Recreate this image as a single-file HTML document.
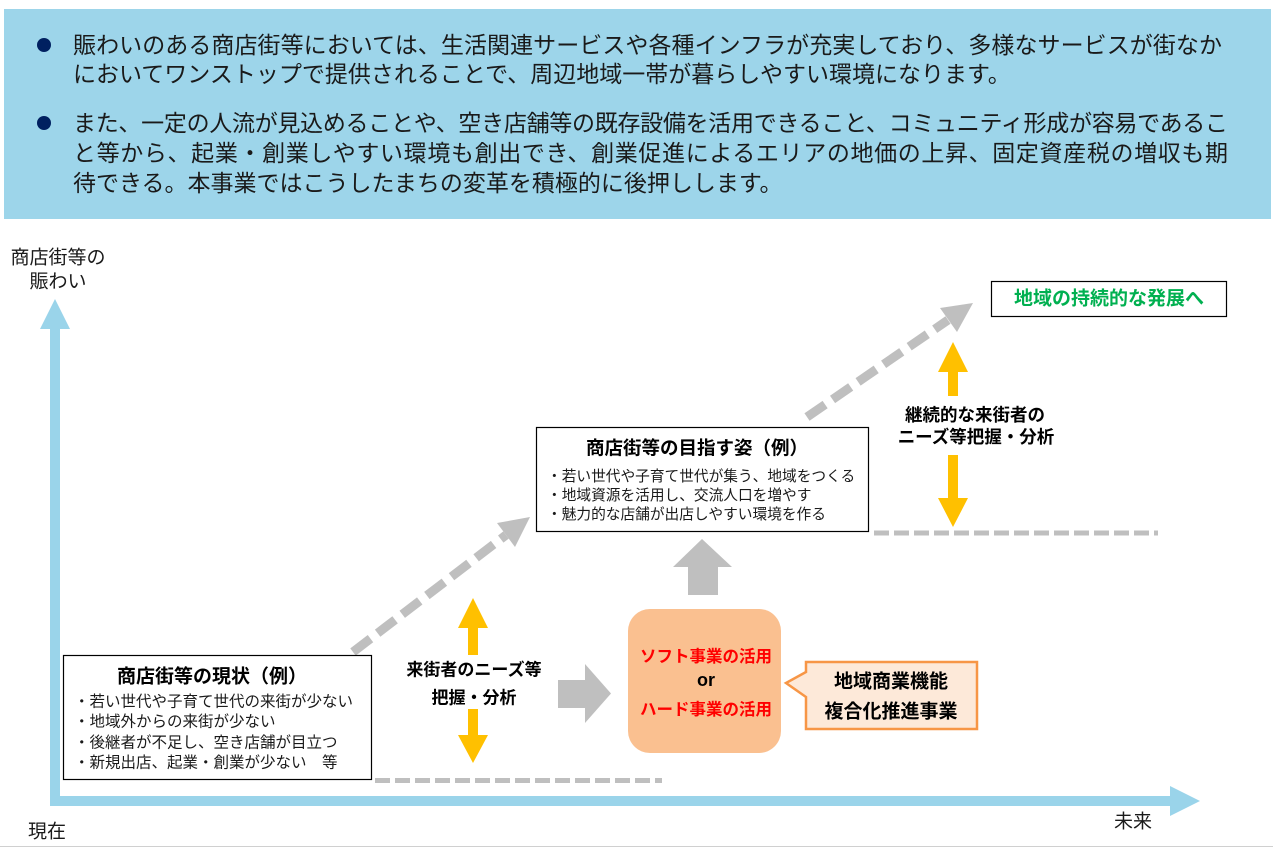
<!DOCTYPE html>
<html><head><meta charset="utf-8">
<style>
html,body{margin:0;padding:0;background:#fff;}
svg{display:block;font-family:"Liberation Sans","Noto Sans CJK JP",sans-serif;}
</style></head><body>
<svg width="1273" height="847" viewBox="0 0 1273 847" xmlns="http://www.w3.org/2000/svg">
<!-- banner -->
<rect x="4" y="9" width="1267" height="210" fill="#9dd5ea"/>
<circle cx="44" cy="45" r="7" fill="#002060"/>
<circle cx="44" cy="123" r="7" fill="#002060"/>
<g font-size="23" fill="#1a1a1a" dominant-baseline="central">
<text x="73" y="45" textLength="1149" lengthAdjust="spacing">賑わいのある商店街等においては、生活関連サービスや各種インフラが充実しており、多様なサービスが街なか</text>
<text x="73" y="74">においてワンストップで提供されることで、周辺地域一帯が暮らしやすい環境になります。</text>
<text x="73" y="123" textLength="1155" lengthAdjust="spacing">また、一定の人流が見込めることや、空き店舗等の既存設備を活用できること、コミュニティ形成が容易であるこ</text>
<text x="73" y="153" textLength="1155" lengthAdjust="spacing">と等から、起業・創業しやすい環境も創出でき、創業促進によるエリアの地価の上昇、固定資産税の増収も期</text>
<text x="73" y="183">待できる。本事業ではこうしたまちの変革を積極的に後押しします。</text>
</g>

<!-- axes -->
<rect x="50" y="328" width="10" height="478" fill="#9ad4ea"/>
<polygon points="40,329 55,299 70,329" fill="#9ad4ea"/>
<rect x="50" y="796" width="1121" height="10" fill="#9ad4ea"/>
<polygon points="1170,786 1200,801 1170,816" fill="#9ad4ea"/>
<g font-size="19" fill="#1a1a1a" dominant-baseline="central" text-anchor="middle">
<text x="58" y="258">商店街等の</text>
<text x="58" y="282">賑わい</text>
<text x="47" y="832">現在</text>
<text x="1133" y="822">未来</text>
</g>
<rect x="0" y="846" width="1273" height="1" fill="#d0d0d0"/>

<!-- dashed baselines -->
<line x1="375" y1="780.5" x2="662" y2="780.5" stroke="#bfbfbf" stroke-width="5" stroke-dasharray="15 5"/>
<line x1="874" y1="533" x2="1158" y2="533" stroke="#bfbfbf" stroke-width="5" stroke-dasharray="15 5"/>

<!-- diagonal dashed arrows -->
<line x1="353" y1="652" x2="506" y2="535" stroke="#bfbfbf" stroke-width="9" stroke-dasharray="22 9"/>
<polygon points="530,517 515,547 497,523" fill="#bfbfbf"/>
<line x1="807" y1="417" x2="948" y2="320" stroke="#bfbfbf" stroke-width="9" stroke-dasharray="22 9"/>
<polygon points="973,303 957,332 940,308" fill="#bfbfbf"/>

<!-- box 1 -->
<rect x="63.5" y="655.5" width="308" height="124" fill="#fff" stroke="#000" stroke-width="1.2"/>
<text x="212" y="677" font-size="19" font-weight="700" text-anchor="middle" dominant-baseline="central" fill="#000">商店街等の現状（例）</text>
<g font-size="15.5" fill="#1a1a1a" dominant-baseline="central">
<text x="74" y="702">・若い世代や子育て世代の来街が少ない</text>
<text x="74" y="722">・地域外からの来街が少ない</text>
<text x="74" y="743">・後継者が不足し、空き店舗が目立つ</text>
<text x="74" y="763">・新規出店、起業・創業が少ない　等</text>
</g>

<!-- box 2 -->
<rect x="536.5" y="427.5" width="332" height="104" fill="#fff" stroke="#000" stroke-width="1.2"/>
<text x="697" y="448" font-size="18.5" font-weight="700" text-anchor="middle" dominant-baseline="central" fill="#000">商店街等の目指す姿（例）</text>
<g font-size="14.7" fill="#1a1a1a" dominant-baseline="central">
<text x="547" y="477">・若い世代や子育て世代が集う、地域をつくる</text>
<text x="547" y="496">・地域資源を活用し、交流人口を増やす</text>
<text x="547" y="515">・魅力的な店舗が出店しやすい環境を作る</text>
</g>

<!-- yellow double arrow 1 -->
<polygon points="473,598 488,628 478,628 478,655 468,655 468,628 458,628" fill="#ffc000"/>
<polygon points="473,763 488,735 478,735 478,709 468,709 468,735 458,735" fill="#ffc000"/>
<g font-size="17" font-weight="700" fill="#000" text-anchor="middle" dominant-baseline="central">
<text x="474" y="670">来街者のニーズ等</text>
<text x="474" y="698">把握・分析</text>
</g>

<!-- yellow double arrow 2 -->
<polygon points="953,342 968,372 958,372 958,396 948,396 948,372 938,372" fill="#ffc000"/>
<polygon points="953,527 968,498 958,498 958,455 948,455 948,498 938,498" fill="#ffc000"/>
<g font-size="17.5" font-weight="700" fill="#000" text-anchor="middle" dominant-baseline="central">
<text x="975" y="415">継続的な来街者の</text>
<text x="976" y="437">ニーズ等把握・分析</text>
</g>

<!-- gray block arrows -->
<polygon points="558,680 585,680 585,664 611,693.5 585,723 585,708 558,708" fill="#bfbfbf"/>
<polygon points="702,539 732,567 718,567 718,595 688,595 688,567 673,567" fill="#bfbfbf"/>

<!-- orange box -->
<rect x="628" y="609" width="153" height="144" rx="22" ry="22" fill="#fac090"/>
<g font-size="16.5" font-weight="700" text-anchor="middle" dominant-baseline="central">
<text x="706" y="657" fill="#ff0000">ソフト事業の活用</text>
<text x="706" y="680" fill="#000" font-size="18">or</text>
<text x="706" y="710" fill="#ff0000">ハード事業の活用</text>
</g>

<!-- callout -->
<path d="M806,662 L977,662 L977,729 L806,729 L806,697 L786,683 L806,672 Z" fill="#fde9d9" stroke="#f79646" stroke-width="2.5" stroke-linejoin="miter"/>
<g font-size="19" font-weight="700" fill="#000" text-anchor="middle" dominant-baseline="central">
<text x="891" y="682">地域商業機能</text>
<text x="891" y="712">複合化推進事業</text>
</g>

<!-- goal box -->
<rect x="991.5" y="281.5" width="235" height="35" fill="#fff" stroke="#000" stroke-width="1.2"/>
<text x="1109" y="299" font-size="19" font-weight="700" fill="#00b050" text-anchor="middle" dominant-baseline="central">地域の持続的な発展へ</text>
</svg>
</body></html>
